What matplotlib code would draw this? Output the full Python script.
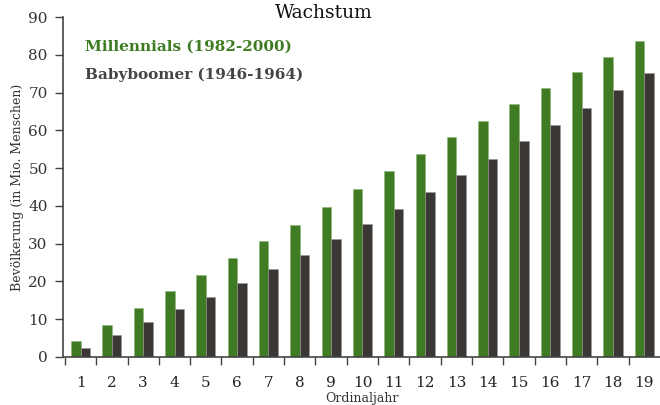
import matplotlib
matplotlib.use("Agg")
import matplotlib.pyplot as plt
import numpy as np

years = list(range(1, 20))
millennials = [4.3, 8.6, 13.0, 17.5, 21.7, 26.1, 30.6, 35.0, 39.8, 44.5, 49.2, 53.8, 58.3, 62.6, 66.9, 71.1, 75.4, 79.4, 83.7]
boomers = [2.5, 5.9, 9.3, 12.7, 16.0, 19.6, 23.3, 27.1, 31.2, 35.2, 39.3, 43.8, 48.1, 52.4, 57.1, 61.5, 66.0, 70.7, 75.1]
series_labels = ["Millennials (1982-2000)", "Babyboomer (1946-1964)"]
y_ticks = [0, 10, 20, 30, 40, 50, 60, 70, 80, 90]

green = "#3e7b22"
dark = "#3b3734"
plt.rcParams['font.family'] = ['DejaVu Serif']

fig = plt.figure(figsize=(6.6, 4.05), dpi=100)
ax = fig.add_axes([63/660, 48/405, 597/660, 340/405])

x = np.arange(len(years))
w = 0.305
ax.bar(x - w/2, millennials, width=w, color=green, edgecolor="#8fb57a", linewidth=0.4)
ax.bar(x + w/2, boomers, width=w, color=dark, edgecolor="#9a9794", linewidth=0.4)

ax.set_xlim(-0.56, len(years) - 0.5)
ax.set_ylim(0, 90)
ax.set_yticks(y_ticks)
ax.set_yticklabels([str(v) for v in y_ticks], fontsize=11, color="#333333")
ax.set_xticks(x)
ax.set_xticklabels([str(v) for v in years], fontsize=11, color="#222222")
ax.set_xticks(np.arange(len(years)) - 0.5, minor=True)
ax.tick_params(axis='x', which='major', length=0, pad=14)
ax.tick_params(axis='x', which='minor', length=6, width=1, color="#444444", direction='out')
ax.tick_params(axis='y', which='major', length=6, width=1, color="#444444", pad=5)

for s in ["top", "right"]:
    ax.spines[s].set_visible(False)
for s in ["left", "bottom"]:
    ax.spines[s].set_color("#444444")
    ax.spines[s].set_linewidth(1.2)

ax.set_xlabel("Ordinaljahr", fontsize=9, color="#333333", labelpad=1)
ax.set_ylabel("Bevölkerung (in Mio. Menschen)", fontsize=9, color="#333333", labelpad=3)
fig.text(0.49, 0.968, "Wachstum", ha="center", va="center", fontsize=13.5, color="#111111")

ax.text(0.037, 0.912, series_labels[0], transform=ax.transAxes, fontsize=11, fontweight="bold", color=green, va="center")
ax.text(0.037, 0.829, series_labels[1], transform=ax.transAxes, fontsize=11, fontweight="bold", color="#444444", va="center")

fig.savefig("out.png", dpi=100)
